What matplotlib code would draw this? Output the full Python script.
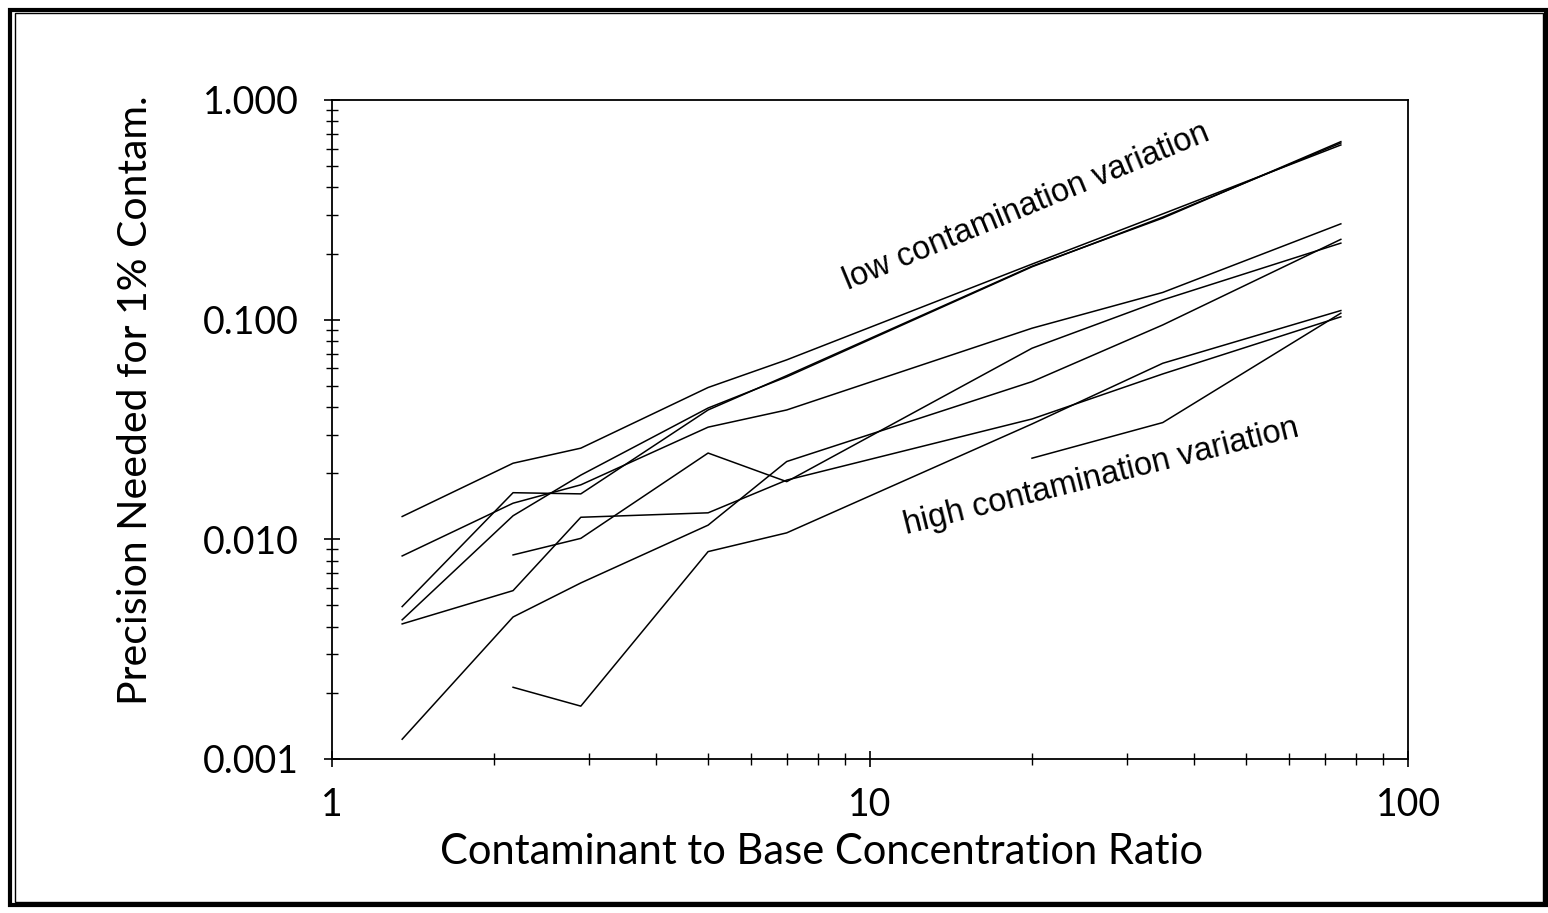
import numpy as np
import matplotlib.pyplot as plt
from matplotlib.patches import Rectangle
from matplotlib.ticker import LogLocator, FixedLocator, FixedFormatter, NullFormatter

# concentration ratio points
ratio = [1.35, 2.17, 2.9, 5, 7, 20, 35, 75]

# precision needed for each contaminant (None = no point)
p1 = [0.0127, 0.0222, 0.0260, 0.0491, 0.0656, 0.179, 0.303, 0.624]
p2 = [0.00494, 0.0163, 0.0161, 0.0388, 0.0556, 0.175, 0.290, 0.646]
p3 = [0.00430, 0.0128, 0.0196, 0.0396, 0.0549, 0.174, 0.293, 0.637]
p4 = [0.00840, 0.0146, 0.0177, 0.0324, 0.0388, 0.0914, 0.133, 0.273]
p5 = [0.00412, 0.00584, 0.0126, 0.0132, 0.0186, 0.0353, 0.0566, 0.103]
p6 = [0.00123, 0.00443, 0.00633, 0.0116, 0.0226, 0.0522, 0.0946, 0.232]
p7 = [None, 0.00849, 0.0101, 0.0247, 0.0183, 0.0741, 0.123, 0.223]
p8 = [None, 0.00212, 0.00174, 0.00879, 0.0107, 0.0335, 0.0633, 0.110]
p9 = [None, None, None, None, None, 0.0234, 0.0340, 0.107]

series = [p1, p2, p3, p4, p5, p6, p7, p8, p9]

fig = plt.figure(figsize=(15.48, 9.13), dpi=100)
ax = fig.add_axes([0.2145, 0.1687, 0.6951, 0.7218])

for s in series:
    xs = [r for r, v in zip(ratio, s) if v is not None]
    ys = [v for v in s if v is not None]
    ax.plot(xs, ys, color='black', lw=1.1)

ax.set_xscale('log')
ax.set_yscale('log')
ax.set_xlim(1, 100)
ax.set_ylim(0.001, 1.0)

fam = ['Lato', 'DejaVu Sans']

ax.yaxis.set_major_locator(FixedLocator([0.001, 0.01, 0.1, 1.0]))
ax.yaxis.set_major_formatter(FixedFormatter(['0.001', '0.010', '0.100', '1.000']))
ax.yaxis.set_minor_locator(LogLocator(base=10, subs=np.arange(2, 10)))
ax.yaxis.set_minor_formatter(NullFormatter())
ax.xaxis.set_major_locator(FixedLocator([1, 10, 100]))
ax.xaxis.set_major_formatter(FixedFormatter(['1', '10', '100']))
ax.xaxis.set_minor_locator(LogLocator(base=10, subs=np.arange(2, 10)))
ax.xaxis.set_minor_formatter(NullFormatter())

ax.tick_params(which='major', direction='inout', length=12, width=1.2)
ax.tick_params(which='minor', direction='inout', length=8, width=1.0)
ax.tick_params(axis='y', which='major', pad=18)
ax.tick_params(axis='x', which='major', pad=14)
for lab in ax.get_xticklabels() + ax.get_yticklabels():
    lab.set_fontfamily(fam)
    lab.set_fontsize(27)

for sp in ax.spines.values():
    sp.set_linewidth(1.3)

ax.set_xlabel('Contaminant to Base Concentration Ratio', fontfamily=fam, fontsize=30)
ax.set_ylabel('Precision Needed for 1% Contam.', fontfamily=fam, fontsize=29.5)
ax.xaxis.set_label_coords(0.455, -0.141)
ax.yaxis.set_label_coords(-0.183, 0.545)
ax.xaxis.label.set_va('center')
ax.yaxis.label.set_va('center')

ax.text(9.1, 0.1365, 'low contamination variation', fontfamily=['Liberation Sans', 'DejaVu Sans'],
        fontsize=23.5, rotation=22.5, rotation_mode='anchor', ha='left', va='baseline')
ax.text(11.7, 0.0106, 'high contamination variation', fontfamily=['Liberation Sans', 'DejaVu Sans'],
        fontsize=23.5, rotation=14, rotation_mode='anchor', ha='left', va='baseline')

# page frame
fig.patches.append(Rectangle((0.0065, 0.0088), 0.9922, 0.9802, transform=fig.transFigure,
                             fill=False, lw=3, edgecolor='black'))
fig.patches.append(Rectangle((0.0095, 0.0120), 0.9870, 0.9740, transform=fig.transFigure,
                             fill=False, lw=1, edgecolor='black'))

fig.savefig('out.png', dpi=100)
